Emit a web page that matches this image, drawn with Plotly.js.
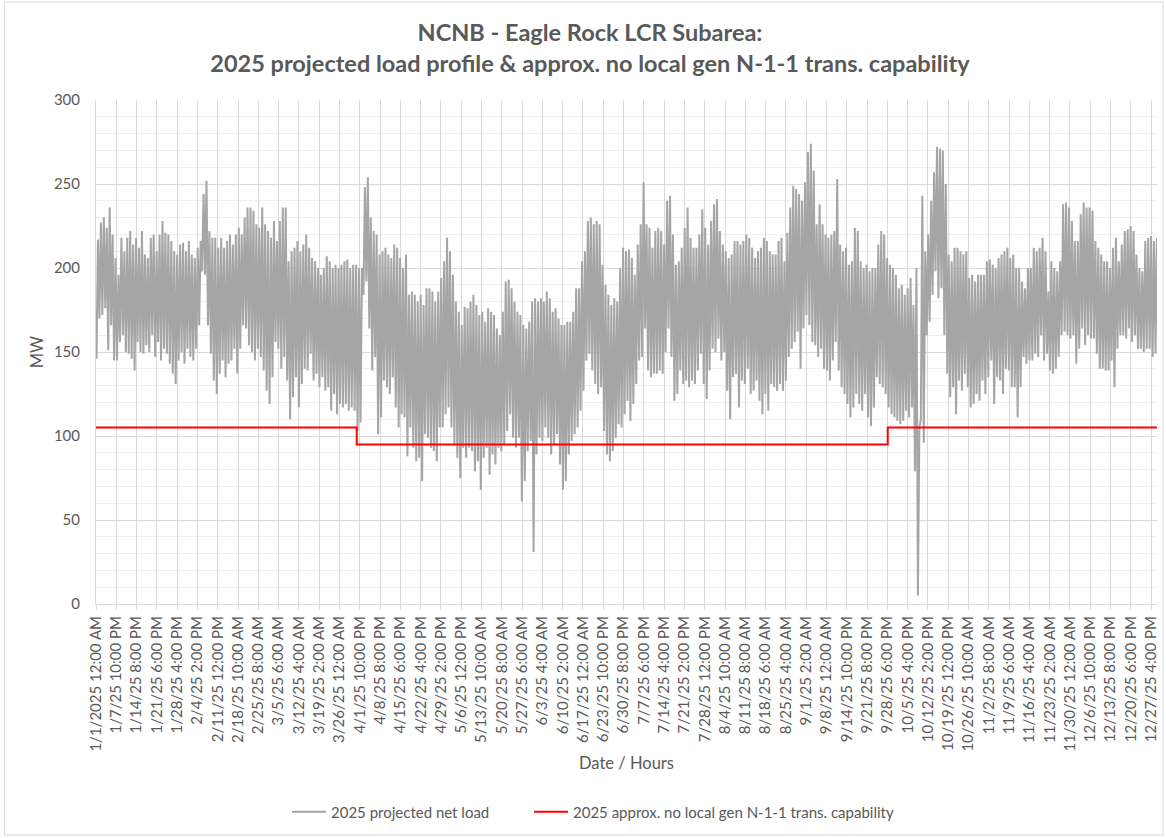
<!DOCTYPE html>
<html><head><meta charset="utf-8">
<script src="https://cdn.plot.ly/plotly-3.0.1.min.js"></script>
<style>html,body{margin:0;padding:0;background:#fff}#chart{width:1166px;height:838px}</style>
</head><body><div id="chart"></div>
<script>
// Daily low / daily peak of the 2025 projected net load (MW), day 0 = 1/1
const dailyMin = [
146,170,172,176,151,166,145,145,156,160,
150,149,146,139,156,150,149,154,150,160,
147,156,145,152,149,143,137,131,145,150,
143,152,147,145,152,166,198,196,166,149,
133,125,137,145,135,143,145,152,137,152,
166,164,154,150,145,152,147,139,127,119,
135,156,152,140,147,133,110,123,135,117,
131,140,139,149,133,137,129,135,127,129,
115,125,113,119,117,119,115,117,115,103,
108,184,192,164,139,147,101,111,133,129,
125,135,117,105,113,111,88,105,93,85,
87,73,101,99,93,91,85,105,105,113,
117,105,95,87,75,93,87,93,91,79,
85,68,87,93,77,89,83,93,91,95,
103,113,99,93,99,61,73,91,97,31,
89,99,97,105,99,89,95,101,83,68,
73,89,97,101,105,115,127,145,149,139,
131,125,129,103,89,85,91,99,107,105,
113,121,109,119,131,145,147,164,139,135,
137,137,139,137,150,164,147,121,125,139,
131,133,129,133,131,139,149,131,122,139,
152,150,158,145,150,127,110,135,137,117,
133,131,140,125,127,133,121,113,125,115,
131,129,127,131,127,133,147,152,156,162,
140,164,172,166,156,154,147,152,140,139,
133,145,156,139,129,125,119,111,117,125,
119,115,125,111,106,117,135,131,129,125,
117,113,111,109,107,109,115,111,117,79,
5,110,96,160,168,184,198,182,188,160,
137,123,129,113,133,127,137,129,117,119,
125,121,133,125,135,145,119,135,133,125,
140,139,129,129,111,129,147,143,145,145,
149,147,160,145,149,139,137,140,147,160,
162,160,158,160,143,152,164,154,160,158,
158,149,140,140,139,139,145,129,152,160,
160,158,164,156,160,152,152,150,152,152,
147,149,156,158
];
const dailyMax = [
217,227,230,224,236,220,206,196,218,210,
218,222,214,218,212,222,208,206,218,220,
210,220,228,221,220,216,210,208,214,215,
210,216,208,206,212,216,244,252,222,218,
218,212,218,212,216,220,214,220,224,220,
230,236,236,234,226,224,236,226,222,218,
228,216,228,236,236,204,210,212,216,210,
214,220,212,206,204,200,196,200,207,204,
200,202,200,202,204,205,200,202,202,200,
200,248,254,230,222,220,208,210,212,208,
206,214,212,206,200,208,184,186,184,180,
184,178,188,188,186,180,186,194,204,218,
210,196,180,174,166,177,176,180,184,178,
172,174,168,176,174,172,164,160,174,192,
193,188,180,174,172,166,164,168,180,182,
180,182,180,186,182,174,176,170,166,166,
168,168,174,188,188,204,210,228,230,226,
228,226,202,190,184,178,182,180,200,212,
210,211,206,196,214,226,251,226,224,212,
222,224,222,214,240,243,220,202,204,212,
224,236,218,212,212,220,235,224,214,228,
238,241,222,214,210,206,208,216,216,214,
216,220,218,212,206,210,212,218,216,210,
208,208,216,218,204,221,236,249,247,244,
240,251,269,274,258,226,238,226,220,218,
220,222,253,214,210,212,202,204,224,222,
204,200,202,198,200,200,214,222,220,206,
202,200,196,188,190,184,188,194,178,200,
105,243,210,220,240,257,272,271,270,250,
208,204,212,212,210,208,210,194,196,192,
196,196,196,204,205,202,200,206,208,210,
212,206,208,200,200,192,188,200,200,212,
210,212,218,210,186,204,200,198,204,238,
239,236,228,216,216,232,239,236,236,234,
216,212,208,204,204,200,212,218,204,214,
222,223,225,222,208,200,198,216,218,219,
216,218,212,210
];
const lowHourOfDay = 4;   // hour of the daily low
const peakHourOfDay = 16; // hour of the daily peak

const tickLabels = [
"1/1/2025 12:00 AM","1/7/25 10:00 PM","1/14/25 8:00 PM","1/21/25 6:00 PM","1/28/25 4:00 PM",
"2/4/25 2:00 PM","2/11/25 12:00 PM","2/18/25 10:00 AM","2/25/25 8:00 AM","3/5/25 6:00 AM",
"3/12/25 4:00 AM","3/19/25 2:00 AM","3/26/25 12:00 AM","4/1/25 10:00 PM","4/8/25 8:00 PM",
"4/15/25 6:00 PM","4/22/25 4:00 PM","4/29/25 2:00 PM","5/6/25 12:00 PM","5/13/25 10:00 AM",
"5/20/25 8:00 AM","5/27/25 6:00 AM","6/3/25 4:00 AM","6/10/25 2:00 AM","6/17/25 12:00 AM",
"6/23/25 10:00 PM","6/30/25 8:00 PM","7/7/25 6:00 PM","7/14/25 4:00 PM","7/21/25 2:00 PM",
"7/28/25 12:00 PM","8/4/25 10:00 AM","8/11/25 8:00 AM","8/18/25 6:00 AM","8/25/25 4:00 AM",
"9/1/25 2:00 AM","9/8/25 12:00 AM","9/14/25 10:00 PM","9/21/25 8:00 PM","9/28/25 6:00 PM",
"10/5/25 4:00 PM","10/12/25 2:00 PM","10/19/25 12:00 PM","10/26/25 10:00 AM","11/2/25 8:00 AM",
"11/9/25 6:00 AM","11/16/25 4:00 AM","11/23/25 2:00 AM","11/30/25 12:00 AM","12/6/25 10:00 PM",
"12/13/25 8:00 PM","12/20/25 6:00 PM","12/27/25 4:00 PM"
];
const tickStepHours = 166;
const lastHour = 8680;

// N-1-1 transmission capability (MW) and the hour each level starts
const capStartHour = [0, 2133, 6477];
const capMW = [105, 95, 105];

const loadX = [], loadY = [];
dailyMin.forEach((v, d) => {
  loadX.push(d * 24 + lowHourOfDay); loadY.push(v);
  loadX.push(d * 24 + peakHourOfDay); loadY.push(dailyMax[d]);
});
const capX = capStartHour.concat([lastHour]);
const capY = capMW.concat([capMW[capMW.length - 1]]);
const tickVals = tickLabels.map((_, k) => k * tickStepHours);

const FONT = "Lato, 'Open Sans', sans-serif";
const TXT = '#595959';

const traces = [
  {x: loadX, y: loadY, type: 'scatter', mode: 'lines', name: '2025 projected net load',
   line: {color: '#a5a5a5', width: 2}, hoverinfo: 'skip', legend: 'legend'},
  {x: capX, y: capY, type: 'scatter', mode: 'lines', name: '2025 approx. no local gen N-1-1 trans. capability',
   line: {color: '#ff0000', width: 2, shape: 'hv'}, hoverinfo: 'skip', legend: 'legend2'}
];

const legendBase = {orientation: 'h', xanchor: 'left', y: (604 - 812) / 504, yanchor: 'middle',
  font: {family: FONT, size: 15, color: TXT}, bgcolor: 'rgba(0,0,0,0)', itemwidth: 34};

const layout = {
  width: 1166, height: 838,
  margin: {l: 96, r: 9, t: 100, b: 234, autoexpand: false},
  paper_bgcolor: '#ffffff', plot_bgcolor: '#ffffff',
  font: {family: FONT, color: TXT, size: 15},
  title: {
    text: '<b>NCNB - Eagle Rock LCR Subarea:<br>2025 projected load profile &amp; approx. no local gen N-1-1 trans. capability</b>',
    font: {family: FONT, size: 23.5, color: TXT},
    x: 0.506, xanchor: 'center', xref: 'container',
    y: 1 - 41 / 838, yanchor: 'middle', yref: 'container'
  },
  xaxis: {
    range: [0, lastHour], tickmode: 'array', tickvals: tickVals, ticktext: tickLabels,
    tickangle: -90, tickfont: {family: FONT, size: 15, color: TXT},
    showgrid: true, gridcolor: '#d9d9d9', gridwidth: 1,
    showline: true, linecolor: '#d9d9d9', linewidth: 1,
    ticks: 'outside', ticklen: 5, tickcolor: '#d9d9d9',
    zeroline: false, automargin: false,
    title: {text: 'Date / Hours', font: {family: FONT, size: 16.5, color: TXT}, standoff: 6}
  },
  yaxis: {
    range: [0, 300], tickmode: 'linear', tick0: 0, dtick: 50,
    tickfont: {family: FONT, size: 15, color: TXT},
    showgrid: true, gridcolor: '#d9d9d9', gridwidth: 1,
    minor: {dtick: 10, showgrid: true, gridcolor: '#f0f0f0', gridwidth: 1, ticks: ''},
    showline: true, linecolor: '#d9d9d9', linewidth: 1, mirror: false,
    ticks: '', ticklabelstandoff: 12, zeroline: false, automargin: false,
    title: {text: 'MW', font: {family: FONT, size: 16.5, color: TXT}, standoff: 6}
  },
  showlegend: true,
  legend: Object.assign({}, legendBase, {x: (287 - 96) / 1061}),
  legend2: Object.assign({}, legendBase, {x: (529 - 96) / 1061}),
  shapes: [{type: 'rect', xref: 'paper', yref: 'paper',
            x0: (4.5 - 96) / 1061, x1: (1163 - 96) / 1061, y0: (604 - 835) / 504, y1: (604 - 2) / 504,
            line: {color: '#d9d9d9', width: 1}, layer: 'below'}]
};

Plotly.newPlot('chart', traces, layout, {displayModeBar: false, staticPlot: true});
</script>
</body></html>
